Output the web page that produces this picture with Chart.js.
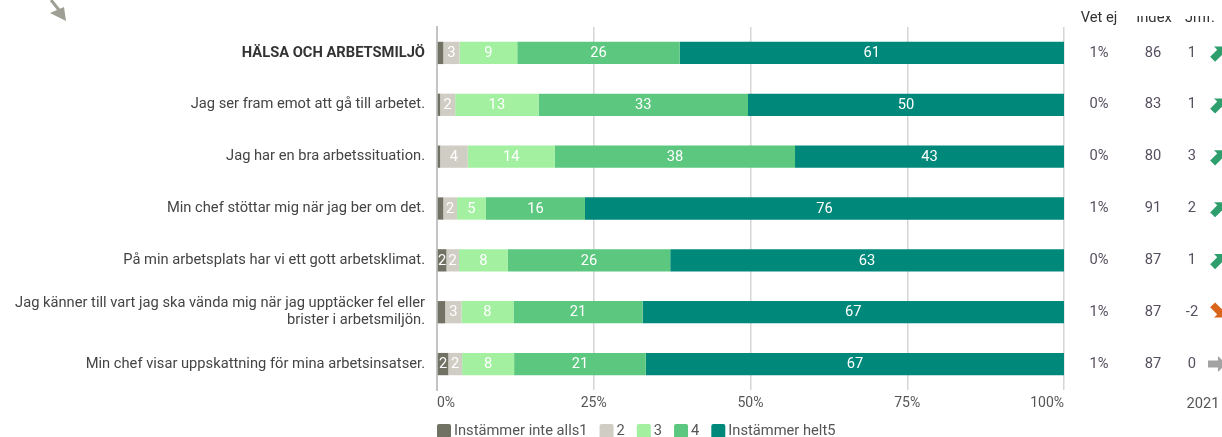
<!DOCTYPE html>
<html>
<head>
<meta charset="utf-8">
<script src="https://cdn.jsdelivr.net/npm/chart.js@4.4.1/dist/chart.umd.min.js"></script>
<style>
  html, body { margin: 0; padding: 0; background: #fff; }
  #wrap { width: 1222px; height: 437px; position: relative; }
</style>
</head>
<body>
<div id="wrap"><canvas id="myChart"></canvas></div>
<script>
// categories (questions)
const categories = [
    'HÄLSA OCH ARBETSMILJÖ',
    'Jag ser fram emot att gå till arbetet.',
    'Jag har en bra arbetssituation.',
    'Min chef stöttar mig när jag ber om det.',
    'På min arbetsplats har vi ett gott arbetsklimat.',
    ['Jag känner till vart jag ska vända mig när jag upptäcker fel eller', 'brister i arbetsmiljön.'],
    'Min chef visar uppskattning för mina arbetsinsatser.'
];

// series values, percent of answers
const seriesNames = ['Instämmer inte alls1', '2', '3', '4', 'Instämmer helt5'];
const answer1 = [1.0, 0.5, 0.5, 1.0, 1.5, 1.3, 1.8];
const answer2 = [2.6, 2.4, 4.4, 2.2, 2.0, 2.6, 2.2];
const answer3 = [9.2, 13.3, 13.9, 4.6, 7.8, 8.3, 8.3];
const answer4 = [25.9, 33.4, 38.3, 15.8, 25.9, 20.6, 21.0];
const answer5 = [61.3, 50.4, 42.9, 76.4, 62.8, 67.2, 66.7];

// side columns
const vetEj = ['1%', '0%', '0%', '1%', '0%', '1%', '1%'];
const indexValues = [86, 83, 80, 91, 87, 87, 87];
const jmf = [1, 1, 3, 2, 1, -2, 0];

// x axis ticks
const xTicks = [0, 25, 50, 75, 100];

const colors = ['#717263', '#d0cdc5', '#a2f0a0', '#5cc77f', '#00897a'];
const font = 'Roboto';
const fs = 14.7;

const barLabels = {
    id: 'barLabels',
    afterDatasetsDraw(chart) {
        const ctx = chart.ctx;
        ctx.save();
        ctx.font = fs + 'px ' + font;
        ctx.fillStyle = '#ffffff';
        ctx.textAlign = 'center';
        ctx.textBaseline = 'middle';
        chart.data.datasets.forEach((ds, di) => {
            chart.getDatasetMeta(di).data.forEach((bar, i) => {
                const v = ds.data[i];
                if (v < 1.5) return;
                ctx.fillText(Math.round(v), (bar.x + bar.base) / 2, bar.y + 0.5);
            });
        });
        ctx.restore();
    }
};

function drawArrow(ctx, cx, cy, angle, color) {
    ctx.save();
    ctx.translate(cx, cy);
    ctx.rotate(angle);
    ctx.fillStyle = color;
    ctx.beginPath();
    ctx.moveTo(-9, -3.5);
    ctx.lineTo(1, -3.5);
    ctx.lineTo(1, -8);
    ctx.lineTo(9, 0);
    ctx.lineTo(1, 8);
    ctx.lineTo(1, 3.5);
    ctx.lineTo(-9, 3.5);
    ctx.closePath();
    ctx.fill();
    ctx.restore();
}

const sideColumns = {
    id: 'sideColumns',
    afterDraw(chart) {
        const ctx = chart.ctx;
        const y = chart.scales.y;
        ctx.save();
        ctx.textAlign = 'center';
        ctx.textBaseline = 'middle';

        // headers, top part hidden as in the source image
        ctx.font = fs + 'px ' + font;
        ctx.fillStyle = '#333';
        ctx.fillText('Vet ej', 1099, 18);
        ctx.save();
        ctx.beginPath();
        ctx.rect(1125, 16, 97, 20);
        ctx.clip();
        ctx.fillText('Index', 1154, 18);
        ctx.fillText('Jmf.', 1200, 18);
        ctx.restore();

        ctx.fillStyle = '#574f5f';
        categories.forEach((c, i) => {
            const py = y.getPixelForValue(i);
            ctx.fillText(vetEj[i], 1099, py);
            ctx.fillText(String(indexValues[i]), 1153, py);
            ctx.fillText(String(jmf[i]), 1192, py);
            if (jmf[i] > 0) drawArrow(ctx, 1219, py, -Math.PI / 4, '#2f9e6d');
            else if (jmf[i] < 0) drawArrow(ctx, 1219, py - 1, Math.PI / 4, '#d9651a');
            else drawArrow(ctx, 1217, py, 0, '#a3a3a3');
        });
        ctx.fillStyle = '#555';
        ctx.fillText('2021', 1203, 404);

        // legend
        ctx.textAlign = 'left';
        let lx = 437;
        chart.data.datasets.forEach((ds) => {
            ctx.fillStyle = ds.backgroundColor;
            ctx.beginPath();
            ctx.roundRect(lx, 424, 14, 14, 2);
            ctx.fill();
            ctx.fillStyle = '#555';
            ctx.fillText(ds.label, lx + 17, 431);
            lx += 17 + ctx.measureText(ds.label).width + 12;
        });

        // small arrow in the top left corner
        ctx.strokeStyle = '#a09f95';
        ctx.fillStyle = '#a09f95';
        ctx.lineWidth = 3;
        ctx.beginPath();
        ctx.moveTo(51, 0);
        ctx.lineTo(59, 10);
        ctx.stroke();
        ctx.beginPath();
        ctx.moveTo(50, 13);
        ctx.lineTo(64, 7);
        ctx.lineTo(66, 21);
        ctx.closePath();
        ctx.fill();
        ctx.restore();
    }
};

const ctx = document.getElementById('myChart').getContext('2d');
const series = [answer1, answer2, answer3, answer4, answer5];
var myChart = new Chart(ctx, {
    type: 'bar',
    data: {
        labels: categories,
        datasets: series.map((d, i) => ({
            label: seriesNames[i],
            data: d,
            backgroundColor: colors[i],
            borderWidth: 0,
            categoryPercentage: 1,
            barPercentage: 0.43
        }))
    },
    options: {
        indexAxis: 'y',
        responsive: true,
        maintainAspectRatio: false,
        animation: false,
        layout: { padding: { top: 27, right: 158, bottom: 25, left: 0 } },
        plugins: {
            legend: { display: false },
            tooltip: { enabled: false }
        },
        scales: {
            x: {
                stacked: true,
                min: 0,
                max: 100,
                afterBuildTicks: s => { s.ticks = xTicks.map(v => ({ value: v })); },
                afterFit: s => { s.height = 22; },
                grid: { color: '#d6d6d6', lineWidth: 1.5, drawTicks: false },
                border: { display: false },
                ticks: {
                    align: 'inner',
                    padding: 5,
                    color: '#555',
                    font: { family: font, size: 14 },
                    callback: v => v + '%'
                }
            },
            y: {
                stacked: true,
                afterFit: s => { s.width = 437; },
                grid: { display: false, drawTicks: false },
                border: { display: true, color: '#c4c4c4', width: 2 },
                ticks: {
                    padding: 12,
                    color: c => c.index === 0 ? '#333' : '#444',
                    font: c => ({ family: font, size: fs, lineHeight: 1.16, weight: c.index === 0 ? 'bold' : 'normal' })
                }
            }
        }
    },
    plugins: [barLabels, sideColumns]
});
</script>
</body>
</html>
